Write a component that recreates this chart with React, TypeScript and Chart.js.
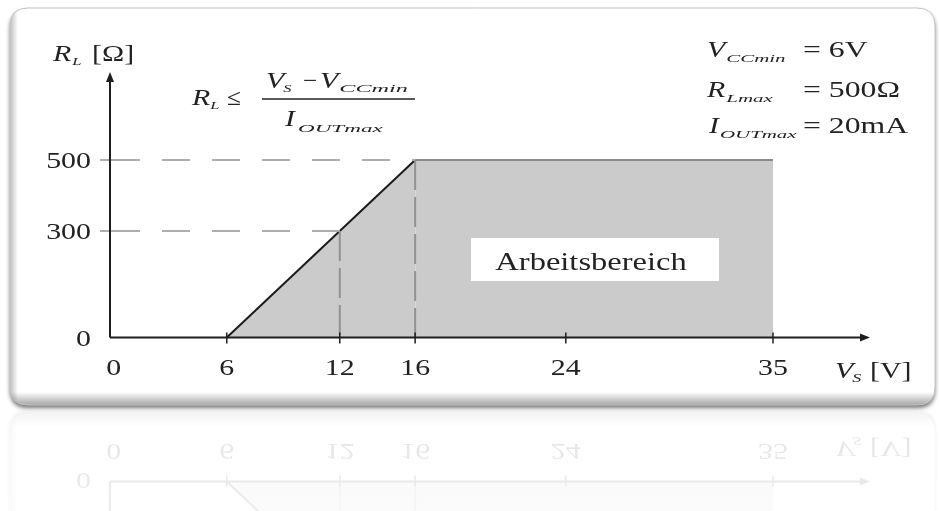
import React, { useEffect, useRef } from "react";
import { Chart, registerables } from "chart.js";

Chart.register(...registerables);

// ---- data ----
const xTickValues = [0, 6, 12, 16, 24, 35];
const xTickMarks = [6, 12, 16, 24, 35];
const yTickValues = [0, 300, 500];
const curveX = [6, 16, 35];
const curveY = [0, 500, 500];
const guideX = [12, 16];
const guideY = [300, 500];
const xMin = -0.2;
const xMax = 40.15;
const yMin = 0;
const yMax = 748;
const areaLabel = "Arbeitsbereich";
const paramNames = ["V", "R", "I"];
const paramSubs = ["CCmin", "Lmax", "OUTmax"];
const paramValues = ["= 6V", "= 500Ω", "= 20mA"];

const SERIF = '"Liberation Serif", "DejaVu Serif", serif';
const INK = "#222222";

function txt(
  ctx: CanvasRenderingContext2D,
  s: string,
  x: number,
  y: number,
  size: number,
  opts: { italic?: boolean; align?: CanvasTextAlign; sx?: number; color?: string } = {}
) {
  const sx = opts.sx ?? 1.3;
  ctx.save();
  ctx.translate(x, y);
  ctx.scale(sx, 1);
  ctx.font = `${opts.italic ? "italic " : ""}${size}px ${SERIF}`;
  ctx.textAlign = opts.align ?? "left";
  ctx.textBaseline = "alphabetic";
  ctx.fillStyle = opts.color ?? INK;
  ctx.fillText(s, 0, 0);
  const w = ctx.measureText(s).width * sx;
  ctx.restore();
  return w;
}

function roundRect(ctx: CanvasRenderingContext2D, x: number, y: number, w: number, h: number, r: number) {
  ctx.beginPath();
  ctx.moveTo(x + r, y);
  ctx.lineTo(x + w - r, y);
  ctx.quadraticCurveTo(x + w, y, x + w, y + r);
  ctx.lineTo(x + w, y + h - r);
  ctx.quadraticCurveTo(x + w, y + h, x + w - r, y + h);
  ctx.lineTo(x + r, y + h);
  ctx.quadraticCurveTo(x, y + h, x, y + h - r);
  ctx.lineTo(x, y + r);
  ctx.quadraticCurveTo(x, y, x + r, y);
  ctx.closePath();
}

const decorPlugin = {
  id: "decor",
  beforeDraw(chart: any) {
    const ctx: CanvasRenderingContext2D = chart.ctx;
    ctx.save();
    ctx.fillStyle = "#ffffff";
    ctx.fillRect(0, 0, chart.width, chart.height);
    ctx.shadowColor = "rgba(0,0,0,0.55)";
    ctx.shadowBlur = 4;
    ctx.shadowOffsetY = 3;
    roundRect(ctx, 10, 8, 925, 397, 18);
    ctx.fillStyle = "#ffffff";
    ctx.fill();
    ctx.shadowColor = "transparent";
    ctx.save();
    roundRect(ctx, 10, 8, 925, 397, 18);
    ctx.clip();
    const g = ctx.createLinearGradient(0, 392, 0, 405);
    g.addColorStop(0, "rgba(0,0,0,0)");
    g.addColorStop(1, "rgba(0,0,0,0.35)");
    ctx.fillStyle = g;
    ctx.fillRect(10, 392, 925, 14);
    const gl = ctx.createLinearGradient(10, 0, 18, 0);
    gl.addColorStop(0, "rgba(0,0,0,0.25)");
    gl.addColorStop(1, "rgba(0,0,0,0)");
    ctx.fillStyle = gl;
    ctx.fillRect(10, 8, 8, 397);
    ctx.restore();
    roundRect(ctx, 10, 8, 925, 397, 18);
    ctx.strokeStyle = "#c4c4c4";
    ctx.lineWidth = 1;
    ctx.stroke();
    ctx.restore();
  },
  afterDatasetsDraw(chart: any) {
    const ctx: CanvasRenderingContext2D = chart.ctx;
    const xs = chart.scales.x;
    const ys = chart.scales.y;
    const x0 = chart.chartArea.left;
    const y0 = ys.getPixelForValue(0);
    ctx.save();

    // dashed guides
    ctx.lineWidth = 2;
    guideY.forEach((v, i) => {
      const py = ys.getPixelForValue(v);
      const px = xs.getPixelForValue(guideX[i]);
      ctx.strokeStyle = "#adadad";
      ctx.setLineDash([]);
      ctx.beginPath();
      ctx.moveTo(x0 - 10, py);
      ctx.lineTo(x0 + 2, py);
      ctx.stroke();
      ctx.setLineDash([28, 22]);
      ctx.lineDashOffset = 38;
      ctx.beginPath();
      ctx.moveTo(x0 - 10, py);
      ctx.lineTo(px, py);
      ctx.stroke();
      ctx.setLineDash([30, 7]);
      ctx.lineDashOffset = 0;
      ctx.strokeStyle = "#929292";
      ctx.beginPath();
      ctx.moveTo(px, py);
      ctx.lineTo(px, y0);
      ctx.stroke();
    });
    ctx.setLineDash([]);

    // axes
    ctx.strokeStyle = "#1e1e1e";
    ctx.fillStyle = "#1e1e1e";
    ctx.lineWidth = 2;
    const xEnd = chart.chartArea.right;
    const yTop = chart.chartArea.top;
    ctx.beginPath();
    ctx.moveTo(x0, y0);
    ctx.lineTo(xEnd - 6, y0);
    ctx.moveTo(x0, y0);
    ctx.lineTo(x0, yTop + 6);
    ctx.stroke();
    ctx.beginPath();
    ctx.moveTo(xEnd, y0);
    ctx.lineTo(xEnd - 10, y0 - 4);
    ctx.lineTo(xEnd - 10, y0 + 4);
    ctx.closePath();
    ctx.fill();
    ctx.beginPath();
    ctx.moveTo(x0, yTop);
    ctx.lineTo(x0 - 4, yTop + 10);
    ctx.lineTo(x0 + 4, yTop + 10);
    ctx.closePath();
    ctx.fill();

    // x tick marks
    ctx.lineWidth = 1.5;
    xTickMarks.forEach((v) => {
      const px = xs.getPixelForValue(v);
      ctx.beginPath();
      ctx.moveTo(px, y0 - 5);
      ctx.lineTo(px, y0 + 6);
      ctx.stroke();
    });

    // tick labels
    xTickValues.forEach((v) => {
      txt(ctx, String(v), xs.getPixelForValue(v), y0 + 37, 23, { align: "center" });
    });
    yTickValues.forEach((v) => {
      txt(ctx, String(v), 91, ys.getPixelForValue(v) + 8, 23, { align: "right" });
    });

    // axis titles
    let w = txt(ctx, "R", 53, 61, 23, { italic: true });
    txt(ctx, "L", 53 + w + 1, 65, 11, { italic: true, sx: 1.5 });
    txt(ctx, "[Ω]", 92, 61, 23);
    w = txt(ctx, "V", 835, 378, 23, { italic: true });
    txt(ctx, "S", 835 + w - 1, 382, 12, { italic: true, sx: 1.5 });
    txt(ctx, "[V]", 870, 378, 23);

    // formula
    w = txt(ctx, "R", 192, 105, 23, { italic: true });
    txt(ctx, "L", 192 + w, 109, 11, { italic: true, sx: 1.5 });
    txt(ctx, "≤", 227, 105, 23, { sx: 1.1 });
    ctx.strokeStyle = INK;
    ctx.lineWidth = 1.5;
    ctx.beginPath();
    ctx.moveTo(262, 99);
    ctx.lineTo(415, 99);
    ctx.stroke();
    w = txt(ctx, "V", 266, 88, 23, { italic: true });
    txt(ctx, "S", 266 + w - 1, 92, 11, { italic: true, sx: 1.5 });
    txt(ctx, "−", 303, 88, 23, { sx: 1.1 });
    w = txt(ctx, "V", 320, 88, 23, { italic: true });
    txt(ctx, "CCmin", 320 + w + 1, 92, 11, { italic: true, sx: 2.2 });
    w = txt(ctx, "I", 285, 126, 23, { italic: true });
    txt(ctx, "OUTmax", 298, 132, 11, { italic: true, sx: 2.1 });

    // parameter block
    const rows = [57, 97, 133];
    paramNames.forEach((n, i) => {
      const bx = i === 2 ? 709 : 707;
      const ww = txt(ctx, n, bx, rows[i], 23, { italic: true });
      txt(ctx, paramSubs[i], bx + ww + 1, rows[i] + 5, 11, { italic: true, sx: 1.9 });
      txt(ctx, paramValues[i], 803, rows[i], 23, { sx: 1.38 });
    });

    // working area label
    ctx.fillStyle = "#ffffff";
    ctx.fillRect(471, 238, 248, 43);
    txt(ctx, areaLabel, 591, 270, 25, { align: "center", sx: 1.3 });

    ctx.restore();
  },
  afterDraw(chart: any) {
    const ctx: CanvasRenderingContext2D = chart.ctx;
    const mirror = 409.5;
    const h = chart.height - mirror;
    ctx.save();
    ctx.fillStyle = "#ffffff";
    ctx.fillRect(0, mirror + 2, chart.width, h);
    ctx.globalAlpha = 0.12;
    ctx.setTransform(1, 0, 0, -1, 0, mirror * 2);
    ctx.drawImage(chart.canvas, 0, mirror - h, chart.width, h, 0, mirror - h, chart.width, h);
    ctx.setTransform(1, 0, 0, 1, 0, 0);
    ctx.globalAlpha = 1;
    const g = ctx.createLinearGradient(0, mirror, 0, chart.height);
    g.addColorStop(0, "rgba(255,255,255,0)");
    g.addColorStop(1, "rgba(255,255,255,0.3)");
    ctx.fillStyle = g;
    ctx.fillRect(0, mirror + 2, chart.width, h);
    ctx.restore();
  },
};

export default function App() {
  const ref = useRef<HTMLCanvasElement | null>(null);
  useEffect(() => {
    if (!ref.current) return;
    const chart = new Chart(ref.current, {
      type: "line",
      data: {
        datasets: [
          {
            data: curveX.map((x, i) => ({ x, y: curveY[i] })),
            fill: "origin",
            backgroundColor: "#cbcbcb",
            borderColor: "#1a1a1a",
            borderWidth: 2,
            pointRadius: 0,
            tension: 0,
            segment: {
              borderColor: (c: any) => (c.p0DataIndex === 0 ? "#1a1a1a" : "#8a8a8a"),
            },
          },
        ],
      },
      options: {
        responsive: false,
        animation: false,
        layout: { padding: { left: 110, right: 69, top: 72, bottom: 173.5 } },
        scales: {
          x: { type: "linear", min: xMin, max: xMax, display: false },
          y: { type: "linear", min: yMin, max: yMax, display: false },
        },
        plugins: { legend: { display: false }, tooltip: { enabled: false } },
      },
      plugins: [decorPlugin],
    } as any);
    return () => chart.destroy();
  }, []);
  return (
    <div style={{ position: "absolute", left: 0, top: 0, width: 939, height: 511, background: "#fff" }}>
      <canvas ref={ref} width={939} height={511} style={{ display: "block", width: 939, height: 511 }} />
    </div>
  );
}
